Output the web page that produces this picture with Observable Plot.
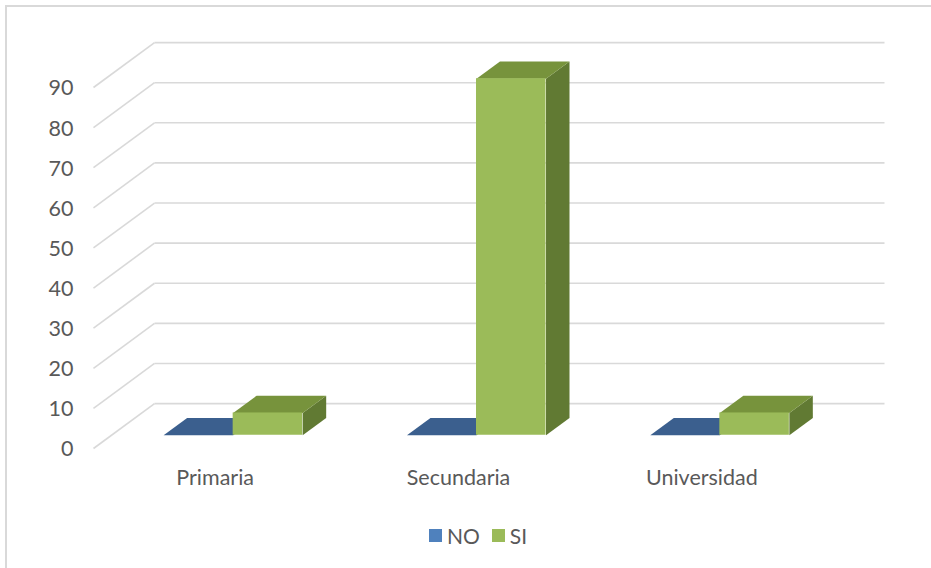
<!DOCTYPE html>
<html><head><meta charset="utf-8">
<script src="https://cdn.jsdelivr.net/npm/d3@7"></script>
<script src="https://cdn.jsdelivr.net/npm/@observablehq/plot@0.6"></script>
<style>
body{margin:0;background:#fff;}
#wrap{position:relative;width:931px;height:568px;overflow:hidden;font-family:Lato,"Open Sans",sans-serif;background:#fff;}
#frame{position:absolute;left:5px;top:5px;width:960px;height:600px;border-left:2px solid #d9d9d9;border-top:2px solid #d9d9d9;pointer-events:none;}
#chart svg{display:block;}
#legend{display:flex;align-items:center;height:40px;padding-left:429px;font-size:21px;color:#595959;}
#legend .sw{width:13px;height:13px;display:inline-block;margin-right:5px;}
#legend .it{display:flex;align-items:center;margin-right:12px;}
</style></head>
<body>
<div id="wrap"><div id="chart"></div><div id="legend"></div><div id="frame"></div></div>
<script>
// ---- data ----
const categories = ["Primaria", "Secundaria", "Universidad"];
const seriesNames = ["NO", "SI"];
const noValues = [0, 0, 0];
const siValues = [5.56, 88.89, 5.56];
const yTicks = [0, 10, 20, 30, 40, 50, 60, 70, 80, 90];

// ---- styles ----
const frontColors = {NO: "#4f81bd", SI: "#9bbb59"};
const topColors = {NO: "#3b5f8e", SI: "#77933c"};
const sideColors = {NO: "#385d8a", SI: "#617a33"};
const gridColor = "#d9d9d9";
const textColor = "#595959";
const fontSize = 21.5;

// 3D depth expressed in scale units (x in category units, y in value units)
const DX = 0.2507, DY = 11.2;
const F0 = 0.295, F1 = 0.68;     // bar front / back depth fractions
const BW = 1 / 3.5;               // bar width (gap width 150%)
const offsets = {NO: 0.5 - BW, SI: 0.5};

const valuesBySeries = {NO: noValues, SI: siValues};
const bars = [];
seriesNames.forEach(s => categories.forEach((c, i) => {
  bars.push({s, i, v: valuesBySeries[s][i], x0: i + offsets[s], x1: i + offsets[s] + BW});
}));

function facePoints(kind, s) {
  const pts = [];
  bars.filter(b => b.s === s).forEach((b, k) => {
    const id = s + k;
    let poly;
    if (kind === "top") poly = [
      [b.x0 + F0*DX, b.v + F0*DY], [b.x1 + F0*DX, b.v + F0*DY],
      [b.x1 + F1*DX, b.v + F1*DY], [b.x0 + F1*DX, b.v + F1*DY]];
    else poly = [
      [b.x1 + F0*DX, F0*DY], [b.x1 + F1*DX, F1*DY],
      [b.x1 + F1*DX, b.v + F1*DY], [b.x1 + F0*DX, b.v + F0*DY]];
    poly.forEach(p => pts.push({id, x: p[0], y: p[1]}));
  });
  return pts;
}

const marks = [
  // back-wall gridlines
  Plot.link(yTicks, {x1: DX, x2: 3 + DX, y1: d => d + DY, y2: d => d + DY, stroke: gridColor, strokeWidth: 1.6}),
  // side-wall diagonals
  Plot.link(yTicks, {x1: 0, x2: DX, y1: d => d, y2: d => d + DY, stroke: gridColor, strokeWidth: 1.6}),
];
seriesNames.forEach(s => {
  marks.push(Plot.line(facePoints("side", s), {x: "x", y: "y", z: "id", fill: sideColors[s], stroke: "none", curve: "linear-closed"}));
  marks.push(Plot.line(facePoints("top", s), {x: "x", y: "y", z: "id", fill: topColors[s], stroke: "none", curve: "linear-closed"}));
  marks.push(Plot.rect(bars.filter(b => b.s === s && b.v > 0), {
    x1: b => b.x0 + F0*DX, x2: b => b.x1 + F0*DX, y1: F0*DY, y2: b => b.v + F0*DY, fill: frontColors[s]}));
});
marks.push(Plot.text(yTicks, {x: 0, y: d => d, text: d => String(d), dx: -20, dy: 1, textAnchor: "end", fontSize, fill: textColor}));
marks.push(Plot.text(categories, {x: (d, i) => i + 0.5, y: 0, text: d => d, dy: 30, fontSize, fill: textColor}));

const chart = Plot.plot({
  width: 931,
  height: 515,
  marginLeft: 93,
  marginRight: 108,
  marginTop: 87,
  marginBottom: 67,
  x: {type: "linear", domain: [0, 3], axis: null},
  y: {type: "linear", domain: [0, 90], axis: null},
  style: {fontFamily: "Lato, 'Open Sans', sans-serif", background: "transparent", overflow: "visible"},
  marks
});
document.getElementById("chart").appendChild(chart);

const legend = document.getElementById("legend");
seriesNames.forEach(s => {
  const it = document.createElement("div");
  it.className = "it";
  it.innerHTML = `<span class="sw" style="background:${frontColors[s]}"></span><span>${s}</span>`;
  legend.appendChild(it);
});
</script>
</body></html>
